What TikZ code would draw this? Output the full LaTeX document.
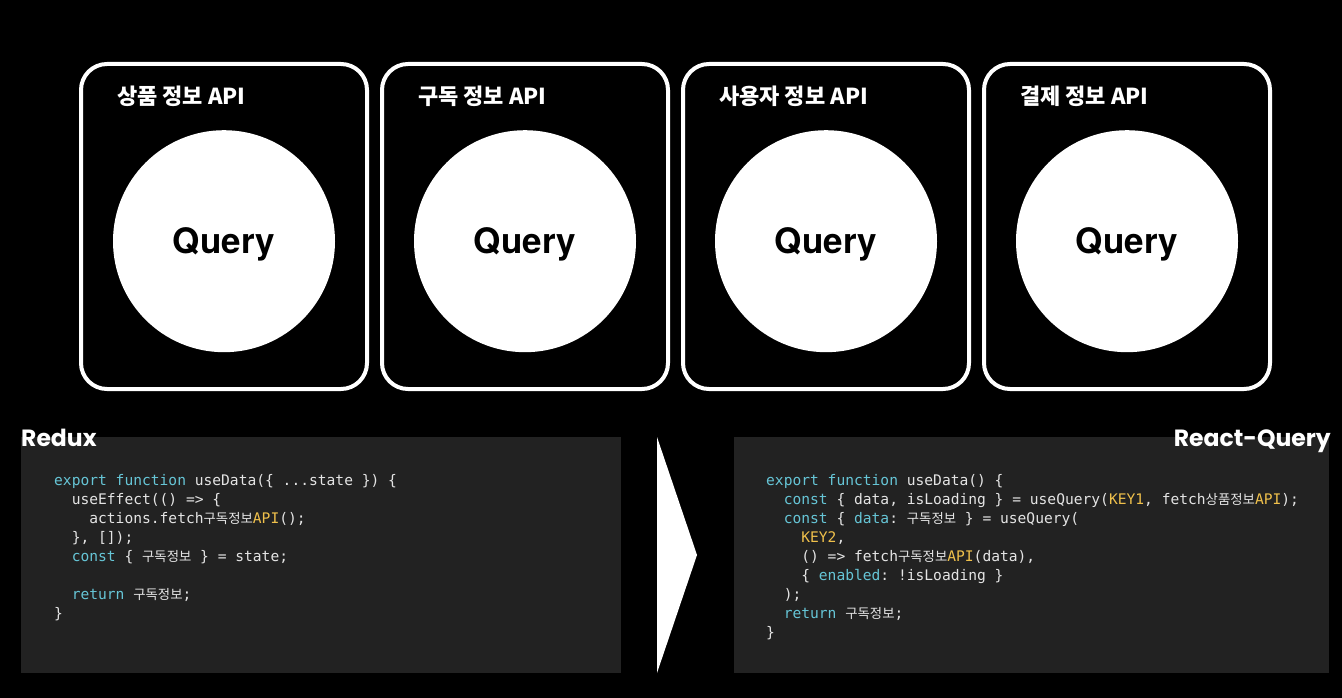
\documentclass[tikz,border=0pt]{standalone}
\usepackage{fontspec}
\usepackage{xcolor}
\usetikzlibrary{positioning}

\newfontfamily\popfont{Poppins}
\newfontfamily\heros{TeX Gyre Heros}
\newfontfamily\krfont{Noto Sans CJK KR}
\newfontfamily\codefont{DejaVu Sans Mono}

\definecolor{codebg}{HTML}{222222}
\definecolor{codefg}{HTML}{E4E4E4}
\definecolor{kwcol}{HTML}{66C5D6}
\definecolor{litcol}{HTML}{EFC04B}

\newcommand{\kwd}[1]{\textcolor{kwcol}{#1}}
\newcommand{\lit}[1]{\textcolor{litcol}{#1}}
\newcommand{\kr}[1]{{\krfont\fontsize{13.4}{19}\selectfont #1}}

\begin{document}
\begin{tikzpicture}[
    x=1pt, y=-1pt,
    api/.style={rectangle, draw=white, line width=4pt, rounded corners=26pt, minimum width=286pt, minimum height=325pt},
    apititle/.style={inner sep=0pt, text=white, font=\krfont\bfseries\fontsize{22}{25}\selectfont},
    query/.style={circle, fill=white, minimum size=222pt, inner sep=0pt, text depth=2pt, font=\heros\bfseries\fontsize{35}{40}\selectfont},
    panel/.style={rectangle, fill=codebg, inner sep=0pt, anchor=north west, minimum height=236pt},
    code/.style={inner sep=0pt, align=left, text=codefg, font=\codefont\frenchspacing\fontsize{14.6}{19}\selectfont},
    side/.style={inner sep=0pt, text=white, font=\popfont\bfseries\fontsize{23.5}{28}\selectfont}
]
\fill[black] (0,0) rectangle (1342,698);
\useasboundingbox (0,0) rectangle (1342,698);

% API boxes
\node[api] (box1) at (224,226.5) {};
\node[api, right=11pt of box1] (box2) {};
\node[api, right=11pt of box2] (box3) {};
\node[api, right=11pt of box3] (box4) {};

\node[apititle, below right=24pt and 38pt of box1.north west] (t1) {상품 정보 API};
\node[apititle, below right=24pt and 38pt of box2.north west] (t2) {구독 정보 API};
\node[apititle, below right=24pt and 38pt of box3.north west] (t3) {사용자 정보 API};
\node[apititle, below right=24pt and 38pt of box4.north west] (t4) {결제 정보 API};

\node[query, below=68pt of box1.north] (q1) {Query};
\node[query, below=68pt of box2.north] (q2) {Query};
\node[query, below=68pt of box3.north] (q3) {Query};
\node[query, below=68pt of box4.north] (q4) {Query};

% code panels
\node[panel, minimum width=600pt] (redux) at (21,437) {};
\node[panel, minimum width=595pt] (rq) at (734,437) {};

\node[side, anchor=base west] (reduxlabel) at (21,446) {Redux};
\node[side, anchor=base east] (rqlabel) at (1331,446) {React-Query};

\node[code, anchor=north west, below right=37pt and 33pt of redux.north west] (reduxcode) {%
\kwd{export} \kwd{function} useData(\{ ...state \}) \{\\
\phantom{xx}useEffect(() => \{\\
\phantom{xxxx}actions.fetch\kr{구독정보}\lit{API}();\\
\phantom{xx}\}, []);\\
\phantom{xx}\kwd{const} \{ \kr{구독정보} \} = state;\\
\mbox{}\\
\phantom{xx}\kwd{return} \kr{구독정보};\\
\}};

\node[code, anchor=north west, below right=37pt and 32pt of rq.north west] (rqcode) {%
\kwd{export} \kwd{function} useData() \{\\
\phantom{xx}\kwd{const} \{ data, isLoading \} = useQuery(\lit{KEY1}, fetch\kr{상품정보}\lit{API});\\
\phantom{xx}\kwd{const} \{ \kwd{data}: \kr{구독정보} \} = useQuery(\\
\phantom{xxxx}\lit{KEY2},\\
\phantom{xxxx}() => fetch\kr{구독정보}\lit{API}(data),\\
\phantom{xxxx}\{ \kwd{enabled}: !isLoading \}\\
\phantom{xx});\\
\phantom{xx}\kwd{return} \kr{구독정보};\\
\}};

% arrow between panels
\fill[white] (657,437) -- (697,555) -- (657,673) -- cycle;
\end{tikzpicture}
\end{document}
